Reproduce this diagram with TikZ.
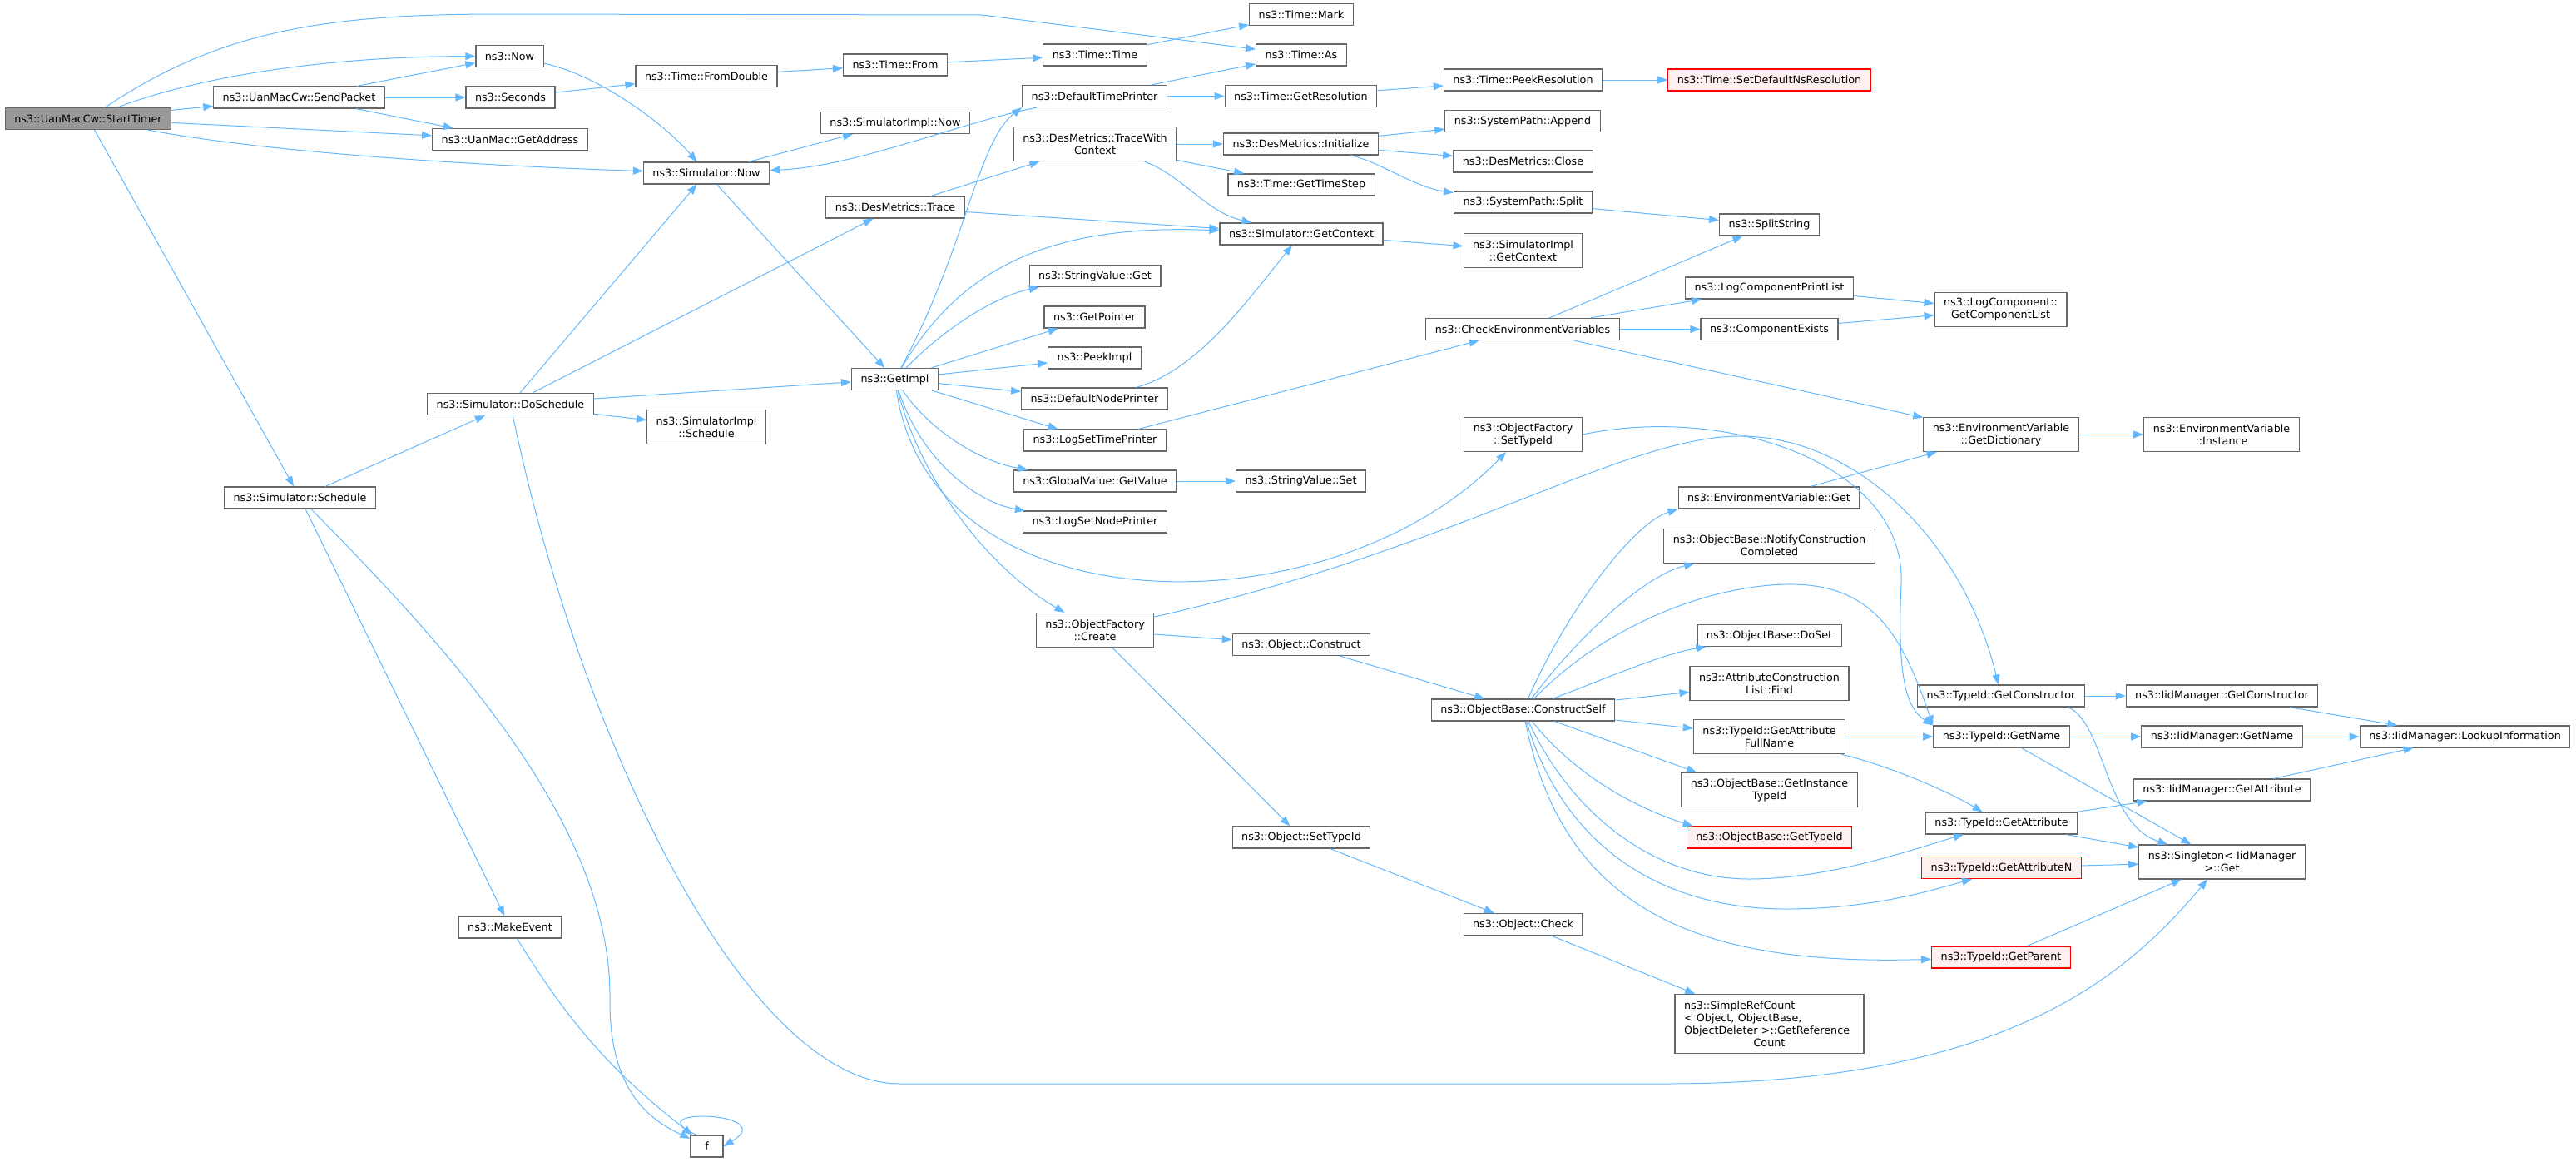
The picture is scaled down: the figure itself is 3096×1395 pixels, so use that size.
\documentclass[tikz,border=0pt]{standalone}
\usepackage{fontspec}
\setmainfont{DejaVu Sans}
\usetikzlibrary{arrows.meta}

\definecolor{edgeblue}{HTML}{63B8FF}
\definecolor{boxgray}{HTML}{666666}
\definecolor{rootgray}{HTML}{999999}
\definecolor{undocfill}{HTML}{FFF0F0}

\begin{document}
\begin{tikzpicture}[x=1pt,y=-1pt]

\tikzstyle{myfunc}=[draw=boxgray, fill=white, line width=1.2pt, inner xsep=11pt, inner ysep=2pt,
    minimum height=26pt, align=center, font=\fontsize{12.75}{15}\selectfont]
\tikzstyle{myfunc2}=[myfunc, minimum height=41pt]
\tikzstyle{myroot}=[myfunc, fill=rootgray]
\tikzstyle{myundoc}=[myfunc, draw=red, fill=undocfill]
\tikzstyle{mycall}=[draw=edgeblue, line width=1pt, -{Triangle[length=12pt,width=9pt]}]

\useasboundingbox (0,0) rectangle (3096,1395);

% rank 0 - 3
\node[myroot] (startTimer) at (106,142.5) {ns3::UanMacCw::StartTimer};
\node[myfunc] (sendPacket) at (359.5,117) {ns3::UanMacCw::SendPacket};
\node[myfunc] (simSchedule) at (360.5,598) {ns3::Simulator::Schedule};
\node[myfunc] (now) at (612.5,67.5) {ns3::Now};
\node[myfunc] (seconds) at (613.5,117) {ns3::Seconds};
\node[myfunc] (getAddress) at (613,167.5) {ns3::UanMac::GetAddress};
\node[myfunc] (doSchedule) at (613.5,485.5) {ns3::Simulator::DoSchedule};
\node[myfunc] (makeEvent) at (613,1114) {ns3::MakeEvent};
\node[myfunc] (fromDouble) at (849,91.5) {ns3::Time::FromDouble};
\node[myfunc] (simNow) at (849,208) {ns3::Simulator::Now};
\node[myfunc2] (implSchedule) at (849,513) {ns3::SimulatorImpl\\::Schedule};
\node[myfunc, minimum width=39pt] (f) at (849.5,1377) {f};

% rank 4 - 5
\node[myfunc] (timeFrom) at (1076,78) {ns3::Time::From};
\node[myfunc] (implNow) at (1076,147.5) {ns3::SimulatorImpl::Now};
\node[myfunc] (dmTrace) at (1076,249) {ns3::DesMetrics::Trace};
\node[myfunc] (getImpl) at (1075.5,455.5) {ns3::GetImpl};
\node[myfunc] (timeTime) at (1316,66) {ns3::Time::Time};
\node[myfunc] (defTimePrinter) at (1315.5,115.5) {ns3::DefaultTimePrinter};
\node[myfunc2] (traceCtx) at (1316,173) {ns3::DesMetrics::TraceWith\\Context};
\node[myfunc] (strGet) at (1316,331.5) {ns3::StringValue::Get};
\node[myfunc] (getPointer) at (1315.5,381) {ns3::GetPointer};
\node[myfunc] (peekImpl) at (1315.5,430) {ns3::PeekImpl};
\node[myfunc] (defNodePrinter) at (1315.5,479) {ns3::DefaultNodePrinter};
\node[myfunc] (logTimePrinter) at (1316,529) {ns3::LogSetTimePrinter};
\node[myfunc] (gvGetValue) at (1316,578) {ns3::GlobalValue::GetValue};
\node[myfunc] (logNodePrinter) at (1316,627) {ns3::LogSetNodePrinter};
\node[myfunc2] (factCreate) at (1316,757) {ns3::ObjectFactory\\::Create};

% rank 6 - 7
\node[myfunc] (timeMark) at (1564,17.5) {ns3::Time::Mark};
\node[myfunc] (timeAs) at (1564,66) {ns3::Time::As};
\node[myfunc] (getResolution) at (1563.5,115.5) {ns3::Time::GetResolution};
\node[myfunc] (initialize) at (1563.5,173) {ns3::DesMetrics::Initialize};
\node[myfunc] (timeStep) at (1564,222) {ns3::Time::GetTimeStep};
\node[myfunc] (getContext) at (1564,281) {ns3::Simulator::GetContext};
\node[myfunc] (strSet) at (1563.5,578) {ns3::StringValue::Set};
\node[myfunc] (objConstruct) at (1564,774.5) {ns3::Object::Construct};
\node[myfunc] (objSetTypeId) at (1564,1006) {ns3::Object::SetTypeId};
\node[myfunc] (peekResolution) at (1830.5,96) {ns3::Time::PeekResolution};
\node[myfunc] (sysAppend) at (1830,145.5) {ns3::SystemPath::Append};
\node[myfunc] (dmClose) at (1830.5,194) {ns3::DesMetrics::Close};
\node[myfunc] (sysSplit) at (1830.5,243) {ns3::SystemPath::Split};
\node[myfunc2] (implContext) at (1830.5,301) {ns3::SimulatorImpl\\::GetContext};
\node[myfunc] (checkEnv) at (1830,395.5) {ns3::CheckEnvironmentVariables};
\node[myfunc2] (factSetTypeId) at (1830.5,522) {ns3::ObjectFactory\\::SetTypeId};
\node[myfunc] (constructSelf) at (1830.5,853) {ns3::ObjectBase::ConstructSelf};
\node[myfunc] (objCheck) at (1830.5,1110.5) {ns3::Object::Check};

% rank 8
\node[myundoc] (setNsRes) at (2126.5,96) {ns3::Time::SetDefaultNsResolution};
\node[myfunc] (splitString) at (2126.5,270) {ns3::SplitString};
\node[myfunc] (logPrintList) at (2126.5,346) {ns3::LogComponentPrintList};
\node[myfunc] (compExists) at (2126.5,395.5) {ns3::ComponentExists};
\node[myfunc] (envGet) at (2126,598) {ns3::EnvironmentVariable::Get};
\node[myfunc2] (notifyCompleted) at (2126.5,656) {ns3::ObjectBase::NotifyConstruction\\Completed};
\node[myfunc] (doSet) at (2126.5,763.5) {ns3::ObjectBase::DoSet};
\node[myfunc2] (attrFind) at (2126.5,821) {ns3::AttributeConstruction\\List::Find};
\node[myfunc2] (attrFullName) at (2126.5,885) {ns3::TypeId::GetAttribute\\FullName};
\node[myfunc2] (instanceTypeId) at (2126.5,949) {ns3::ObjectBase::GetInstance\\TypeId};
\node[myundoc] (obGetTypeId) at (2126.5,1006) {ns3::ObjectBase::GetTypeId};
\node[myfunc, minimum height=71pt, text width=205pt, align=left] (simpleRefCount) at (2126.5,1230)
    {ns3::SimpleRefCount\\< Object, ObjectBase,\\ObjectDeleter >::GetReference\\\hspace*{\fill}Count\hspace*{\fill}\mbox{}};

% rank 9 - 11
\node[myfunc2] (getCompList) at (2404.5,372) {ns3::LogComponent::\\GetComponentList};
\node[myfunc2] (getDictionary) at (2405,522) {ns3::EnvironmentVariable\\::GetDictionary};
\node[myfunc] (tidGetConstructor) at (2405,836) {ns3::TypeId::GetConstructor};
\node[myfunc] (tidGetName) at (2405.5,885) {ns3::TypeId::GetName};
\node[myfunc] (tidGetAttribute) at (2405.5,989) {ns3::TypeId::GetAttribute};
\node[myundoc] (tidGetAttributeN) at (2405.5,1042.5) {ns3::TypeId::GetAttributeN};
\node[myundoc] (tidGetParent) at (2405,1150) {ns3::TypeId::GetParent};
\node[myfunc2] (envInstance) at (2670,522) {ns3::EnvironmentVariable\\::Instance};
\node[myfunc] (iidGetConstructor) at (2670.5,836) {ns3::IidManager::GetConstructor};
\node[myfunc] (iidGetName) at (2670.5,885) {ns3::IidManager::GetName};
\node[myfunc] (iidGetAttribute) at (2670.5,949) {ns3::IidManager::GetAttribute};
\node[myfunc2] (singletonGet) at (2670.5,1035.5) {ns3::Singleton< IidManager\\>::Get};
\node[myfunc] (lookupInfo) at (2962.5,885) {ns3::IidManager::LookupInformation};

% straight calls
\foreach \a/\b in {startTimer/sendPacket, startTimer/getAddress, startTimer/simSchedule,
    sendPacket/now, sendPacket/seconds, sendPacket/getAddress, seconds/fromDouble,
    fromDouble/timeFrom, timeFrom/timeTime, timeTime/timeMark, defTimePrinter/timeAs,
    defTimePrinter/getResolution, getResolution/peekResolution, peekResolution/setNsRes,
    simNow/implNow, simNow/getImpl, doSchedule/simNow, doSchedule/dmTrace, doSchedule/getImpl,
    doSchedule/implSchedule, simSchedule/doSchedule, simSchedule/makeEvent, dmTrace/traceCtx,
    dmTrace/getContext, traceCtx/initialize, traceCtx/timeStep, initialize/sysAppend,
    initialize/dmClose, sysSplit/splitString, getContext/implContext, getImpl/getPointer,
    getImpl/peekImpl, getImpl/defNodePrinter, getImpl/logTimePrinter, logTimePrinter/checkEnv,
    gvGetValue/strSet, checkEnv/splitString, checkEnv/logPrintList, checkEnv/compExists,
    checkEnv/getDictionary, logPrintList/getCompList, compExists/getCompList,
    getDictionary/envInstance, envGet/getDictionary, factCreate/objConstruct,
    factCreate/objSetTypeId, objConstruct/constructSelf, objSetTypeId/objCheck,
    objCheck/simpleRefCount, constructSelf/attrFind, constructSelf/attrFullName,
    attrFullName/tidGetName, tidGetConstructor/iidGetConstructor, iidGetConstructor/lookupInfo,
    tidGetName/iidGetName, iidGetName/lookupInfo, iidGetAttribute/lookupInfo,
    tidGetAttribute/iidGetAttribute, tidGetAttribute/singletonGet, tidGetAttributeN/singletonGet,
    tidGetParent/singletonGet, tidGetName/singletonGet} {
    \draw[mycall] (\a) -- (\b);
}

% curved calls
\draw[mycall] (startTimer) .. controls (260,40) and (380,17) .. (600,17) -- (1180,18) -- (timeAs);
\draw[mycall] (startTimer) .. controls (230,95) and (380,68) .. (now);
\draw[mycall] (startTimer) .. controls (330,185) and (600,200) .. (simNow);
\draw[mycall] (now) .. controls (720,90) and (800,150) .. (simNow);
\draw[mycall] (defTimePrinter) .. controls (1150,148) and (1030,200) .. (simNow);
\draw[mycall] (getImpl) .. controls (1160,300) and (1175,170) .. (defTimePrinter.south west);
\draw[mycall] (getImpl) .. controls (1150,330) and (1250,268) .. (getContext);
\draw[mycall] (getImpl) .. controls (1140,390) and (1200,355) .. (strGet);
\draw[mycall] (getImpl) .. controls (1120,520) and (1180,555) .. (gvGetValue);
\draw[mycall] (getImpl) .. controls (1110,560) and (1180,605) .. (logNodePrinter);
\draw[mycall] (getImpl) .. controls (1110,590) and (1200,690) .. (factCreate);
\draw[mycall] (getImpl) .. controls (1120,760) and (1600,760) .. (factSetTypeId);
\draw[mycall] (traceCtx) .. controls (1420,210) and (1450,255) .. (getContext);
\draw[mycall] (initialize) .. controls (1660,195) and (1700,225) .. (sysSplit);
\draw[mycall] (defNodePrinter) .. controls (1440,445) and (1500,360) .. (getContext);
\draw[mycall] (factSetTypeId.east) .. controls (2080,485) and (2290,560) .. (2285,700)
    .. controls (2280,810) and (2290,850) .. (tidGetName.north west);
\draw[mycall] (factCreate) .. controls (1750,660) and (1950,525) .. (2090,524)
    .. controls (2230,523) and (2360,650) .. (tidGetConstructor);
\draw[mycall] ([xshift=-20pt]tidGetConstructor.south east) .. controls (2530,870) and (2530,990) .. (singletonGet);
\draw[mycall] (attrFullName) .. controls (2270,920) and (2340,950) .. (tidGetAttribute);
\draw[mycall] (constructSelf) .. controls (1880,740) and (1960,630) .. (envGet.south west);
\draw[mycall] (constructSelf) .. controls (1900,760) and (1980,690) .. ([xshift=37pt]notifyCompleted.south west);
\draw[mycall] (constructSelf) .. controls (1920,760) and (2040,705) .. (2146,702)
    .. controls (2250,700) and (2285,760) .. (tidGetName.north west);
\draw[mycall] (constructSelf) .. controls (1930,815) and (2000,785) .. ([xshift=11pt]doSet.south west);
\draw[mycall] (constructSelf) -- ([xshift=19pt]instanceTypeId.north west);
\draw[mycall] (constructSelf) .. controls (1900,940) and (1980,975) .. ([xshift=8pt]obGetTypeId.north west);
\draw[mycall] (constructSelf) .. controls (1890,980) and (1990,1056) .. (2102,1056)
    .. controls (2200,1056) and (2300,1020) .. ([xshift=46pt]tidGetAttribute.south west);
\draw[mycall] (constructSelf) .. controls (1880,1020) and (2000,1092) .. (2146,1092)
    .. controls (2250,1092) and (2320,1070) .. ([xshift=61pt]tidGetAttributeN.south west);
\draw[mycall] (constructSelf) .. controls (1880,1100) and (2050,1160) .. (tidGetParent);
\draw[mycall] (doSchedule) .. controls (700,900) and (900,1300) .. (1080,1302) -- (2000,1302)
    .. controls (2400,1302) and (2550,1180) .. (singletonGet);
\draw[mycall] (simSchedule) .. controls (560,800) and (735,1000) .. (733,1200)
    .. controls (732,1310) and (780,1345) .. (f);
\draw[mycall] (makeEvent) to[bend right=10] (f);
\draw[mycall] ([xshift=8pt]f.north west) .. controls (760,1330) and (940,1335) .. (f.east);

\end{tikzpicture}
\end{document}
